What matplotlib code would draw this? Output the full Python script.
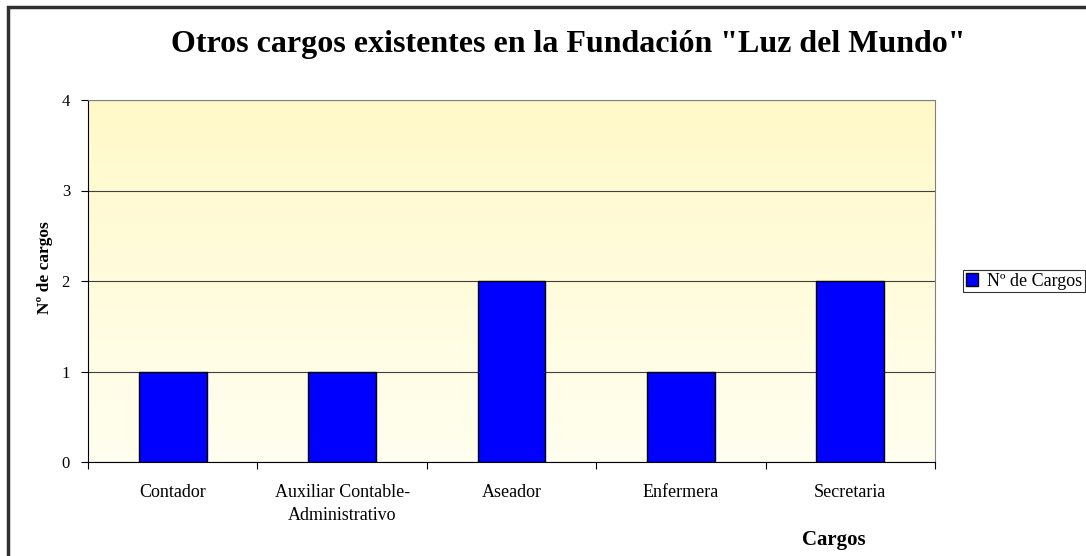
import numpy as np
import matplotlib.pyplot as plt
from matplotlib.patches import Rectangle, Patch

cargos = ["Contador", "Auxiliar Contable-\nAdministrativo", "Aseador", "Enfermera", "Secretaria"]
n_cargos = [1, 1, 2, 1, 2]

plt.rcParams['font.family'] = ['Liberation Serif', 'DejaVu Serif']

fig = plt.figure(figsize=(10.86, 5.56), dpi=100)
ax = fig.add_axes([88/1086, 1 - 462/556, (935 - 88)/1086, (462 - 100)/556])

# fondo degradado amarillo
grad = np.linspace(0, 1, 256).reshape(-1, 1)
top = np.array([255, 249, 200]) / 255
bot = np.array([255, 255, 240]) / 255
img = bot + grad * (top - bot)
img = np.repeat(img[:, None, :], 2, axis=1)
ax.imshow(img, extent=[0, 1, 0, 1], transform=ax.transAxes, origin='lower',
          aspect='auto', zorder=0)

x = np.arange(len(cargos))
ax.bar(x, n_cargos, width=0.4, color='#0000FF', edgecolor='black', linewidth=1, zorder=3,
       label='Nº de Cargos')

ax.set_xlim(-0.5, len(cargos) - 0.5)
ax.set_ylim(0, 4)
ax.set_yticks([0, 1, 2, 3, 4])
ax.yaxis.grid(True, color='#404040', linewidth=0.8, zorder=1)
ax.set_axisbelow(True)

ax.set_xticks(np.arange(len(cargos) + 1) - 0.5)
ax.set_xticklabels([])
ax.set_xticks(x, minor=True)
ax.set_xticklabels(cargos, minor=True, fontsize=13)
ax.tick_params(axis='x', which='minor', length=0, pad=16)
ax.tick_params(axis='x', which='major', length=5, direction='out', color='black')
ax.tick_params(axis='y', length=5, direction='out', labelsize=12, pad=8)
for lbl in ax.get_xticklabels(minor=True):
    lbl.set_linespacing(1.45)

for s in ['top', 'right']:
    ax.spines[s].set_color('#808080')
ax.spines['left'].set_color('black')
ax.spines['bottom'].set_color('black')

fig.text(568/1086, 1 - 45/556, 'Otros cargos existentes en la Fundación "Luz del Mundo"',
         ha='center', va='center', fontsize=23, fontweight='bold')
fig.text(45/1086, 1 - 268/556, 'Nº de cargos', rotation=90, ha='center', va='center',
         fontsize=12.5, fontweight='bold')
fig.text(834/1086, 1 - 540/556, 'Cargos', ha='center', va='center',
         fontsize=15, fontweight='bold')

handles = [Patch(facecolor='#0000FF', edgecolor='black', label='Nº de Cargos')]
leg = fig.legend(handles=handles, loc='center left', bbox_to_anchor=(963/1086, 1 - 281/556),
                 frameon=True, fancybox=False, edgecolor='black', fontsize=13,
                 handlelength=0.7, handleheight=0.7, handletextpad=0.5,
                 borderpad=0.15, borderaxespad=0)
leg.get_frame().set_linewidth(0.8)

# marco del gráfico
fig.patches.append(Rectangle((8/1086, -0.05), 1.1, 1 - 7/556 + 0.05, transform=fig.transFigure,
                             fill=False, edgecolor='#303030', linewidth=2.5, clip_on=False))

fig.savefig('out.png', dpi=100)
